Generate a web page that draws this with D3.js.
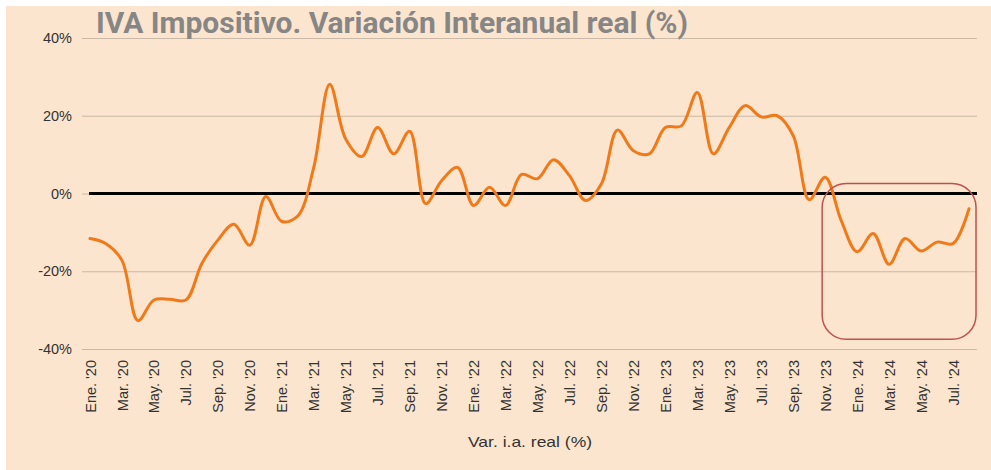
<!DOCTYPE html>
<html>
<head>
<meta charset="utf-8">
<script src="https://cdn.jsdelivr.net/npm/d3@7"></script>
<style>
  html, body { margin: 0; padding: 0; background: #ffffff; }
  svg { display: block; }
</style>
</head>
<body>
<svg id="chart" width="991" height="470"></svg>
<script>
const monthNames = ["Ene.", "Feb.", "Mar.", "Abr.", "May.", "Jun.", "Jul.", "Ago.", "Sep.", "Oct.", "Nov.", "Dic."];
const years = ["20", "21", "22", "23", "24"];
const categories = [];
years.forEach(y => monthNames.forEach(m => categories.push(m + " '" + y)));
categories.splice(56); // Ene. '20 .. Ago. '24

const values = [
  -11.6, -12.9, -17.2, -32.7, -27.4, -27.2, -27.4, -18.0, -12.0, -7.9, -13.3, -0.8,
  -7.2, -5.8, 6.7, 28.1, 14.0, 9.5, 17.0, 10.2, 16.0, -2.6, 3.3, 6.7,
  -3.1, 1.6, -3.1, 4.9, 3.8, 8.7, 4.6, -1.8, 2.5, 16.3, 11.0, 10.2,
  17.0, 17.4, 26.0, 10.2, 17.0, 22.6, 19.7, 20.0, 14.9, -1.6, 4.2, -6.9,
  -15.0, -10.3, -18.2, -11.6, -14.8, -12.5, -12.9, -3.9
];

const yTicks = [-40, -20, 0, 20, 40];
const tickLabels = categories.filter((d, i) => i % 2 === 0 && i < 55);
const titleText = "IVA Impositivo. Variación Interanual real (%)";
const axisTitle = "Var. i.a. real (%)";
const highlight = { from: "Dic. '23", to: "Ago. '24", top: 0, bottom: -37.5 };

const svg = d3.select("#chart");
const W = 991, H = 470;

svg.append("rect").attr("x", 6).attr("y", 6).attr("width", W - 6).attr("height", H - 6)
  .attr("fill", "#FCE5CE");

const plot = { left: 82, right: 977, top: 38, bottom: 349 };

const x = d3.scalePoint().domain(categories).range([plot.left, plot.right]).padding(0.5);
const y = d3.scaleLinear().domain([-40, 40]).range([plot.bottom, plot.top]);

// gridlines
const yAxis = d3.axisLeft(y).tickValues(yTicks).tickFormat(d => d + "%").tickSize(-(plot.right - plot.left)).tickPadding(10);
const gy = svg.append("g").attr("transform", `translate(${plot.left},0)`).call(yAxis);
gy.select(".domain").remove();
gy.selectAll(".tick line").attr("stroke", "#C9B9A6").attr("stroke-width", 1.2);
gy.selectAll(".tick text").attr("fill", "#333").style("font-family", "'Liberation Sans', Arial, sans-serif").style("font-size", "14.5px");

// zero line
svg.append("line")
  .attr("x1", x(categories[0]) - 1).attr("x2", plot.right)
  .attr("y1", y(0)).attr("y2", y(0))
  .attr("stroke", "#000").attr("stroke-width", 3.2);

// x axis labels
const xAxis = d3.axisBottom(x).tickValues(tickLabels).tickSize(0).tickPadding(0);
const gx = svg.append("g").attr("transform", `translate(0,${plot.bottom})`).call(xAxis);
gx.select(".domain").remove();
gx.selectAll(".tick text")
  .attr("transform", "rotate(-90)")
  .attr("text-anchor", "end")
  .attr("x", -11).attr("y", 0).attr("dy", "0.35em")
  .attr("fill", "#333")
  .style("font-family", "'Liberation Sans', Arial, sans-serif")
  .style("font-size", "14.5px");

// line
const line = d3.line()
  .x((d, i) => x(categories[i]))
  .y(d => y(d))
  .curve(d3.curveCatmullRom.alpha(0.5));
svg.append("path").datum(values)
  .attr("d", line)
  .attr("fill", "none")
  .attr("stroke", "#F07A1A")
  .attr("stroke-width", 3)
  .attr("stroke-linejoin", "round")
  .attr("stroke-linecap", "round");

// highlight box
const hx0 = x(highlight.from) - 19;
const hx1 = x(highlight.to) + 7;
svg.append("rect")
  .attr("x", hx0).attr("y", y(highlight.top) - 10)
  .attr("width", hx1 - hx0).attr("height", y(highlight.bottom) - y(highlight.top) + 10)
  .attr("rx", 24).attr("ry", 24)
  .attr("fill", "none").attr("stroke", "#C0504D").attr("stroke-width", 1.5);

// title
svg.append("text").attr("x", 96).attr("y", 33)
  .attr("fill", "#868686")
  .attr("textLength", 592).attr("lengthAdjust", "spacingAndGlyphs")
  .style("font-family", "Roboto, sans-serif")
  .style("font-weight", "700")
  .style("font-size", "29.5px")
  .text(titleText);

// axis title
svg.append("text").attr("x", 530).attr("y", 447)
  .attr("text-anchor", "middle")
  .attr("fill", "#333")
  .attr("textLength", 124).attr("lengthAdjust", "spacingAndGlyphs")
  .style("font-family", "'Liberation Sans', Arial, sans-serif")
  .style("font-size", "15px")
  .text(axisTitle);
</script>
</body>
</html>
